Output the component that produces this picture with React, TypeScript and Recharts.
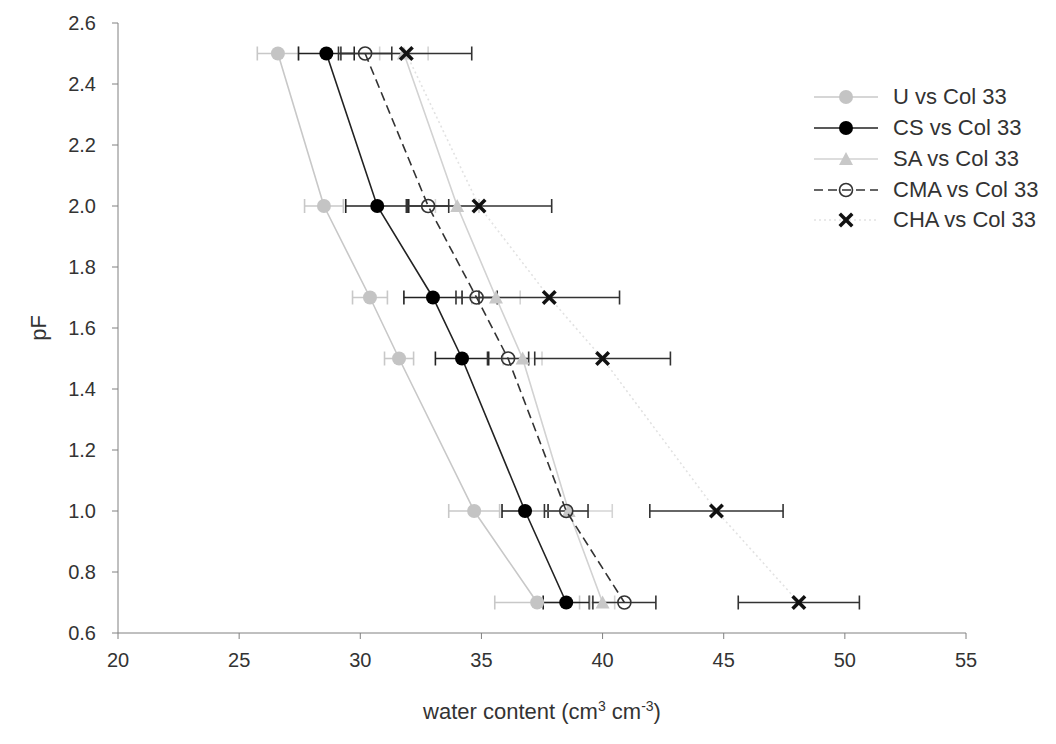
import React from "react";
import { ScatterChart, Scatter, XAxis, YAxis, ErrorBar, Legend } from "recharts";

// pF levels (y) and water content (x) per treatment, with half-width of the error bars
const pF = [2.5, 2.0, 1.7, 1.5, 1.0, 0.7];

const uWater = [26.6, 28.5, 30.4, 31.6, 34.7, 37.3];
const uErr = [0.85, 0.8, 0.72, 0.6, 1.05, 1.75];
const csWater = [28.6, 30.7, 33.0, 34.2, 36.8, 38.5];
const csErr = [1.15, 1.3, 1.2, 1.1, 0.95, 0.95];
const saWater = [31.8, 34.0, 35.6, 36.7, 38.6, 40.0];
const saErr = [1.0, 0.9, 1.0, 0.8, 1.8, 0.5];
const cmaWater = [30.2, 32.8, 34.8, 36.1, 38.5, 40.9];
const cmaErr = [1.1, 0.85, 0.85, 0.85, 0.9, 1.3];
const chaWater = [31.9, 34.9, 37.8, 40.0, 44.7, 48.1];
const chaErr = [2.7, 3.0, 2.9, 2.8, 2.75, 2.5];

const xTicks = [20, 25, 30, 35, 40, 45, 50, 55];
const yTicks = [0.6, 0.8, 1.0, 1.2, 1.4, 1.6, 1.8, 2.0, 2.2, 2.4, 2.6];

const toPoints = (water: number[], err: number[]) =>
  pF.map((y, i) => ({ x: water[i], y, err: err[i] }));

const FONT = "'Liberation Sans', Arial, sans-serif";
const TEXT = "#333";
const AXIS = "#808080";

type Marker = "dot" | "tri" | "open" | "cross";

function drawMarker(kind: Marker, cx: number, cy: number, color: string) {
  if (kind === "dot") return <circle cx={cx} cy={cy} r={7} fill={color} />;
  if (kind === "tri")
    return <polygon points={`${cx},${cy - 7} ${cx + 7},${cy + 6} ${cx - 7},${cy + 6}`} fill={color} />;
  if (kind === "open")
    return <circle cx={cx} cy={cy} r={6.5} fill="none" stroke={color} strokeWidth={1.6} />;
  return (
    <g stroke={color} strokeWidth={3.5} strokeLinecap="square">
      <line x1={cx - 5} y1={cy - 5} x2={cx + 5} y2={cy + 5} />
      <line x1={cx - 5} y1={cy + 5} x2={cx + 5} y2={cy - 5} />
    </g>
  );
}

const series = [
  { name: "U vs Col 33", data: toPoints(uWater, uErr), marker: "dot" as Marker, color: "#c4c4c4", line: "#c8c8c8", dash: undefined, bar: "#c8c8c8" },
  { name: "CS vs Col 33", data: toPoints(csWater, csErr), marker: "dot" as Marker, color: "#000", line: "#222", dash: undefined, bar: "#222" },
  { name: "SA vs Col 33", data: toPoints(saWater, saErr), marker: "tri" as Marker, color: "#c8c8c8", line: "#d2d2d2", dash: undefined, bar: "#d4d4d4" },
  { name: "CMA vs Col 33", data: toPoints(cmaWater, cmaErr), marker: "open" as Marker, color: "#333", line: "#333", dash: "9 5", bar: "#333" },
  { name: "CHA vs Col 33", data: toPoints(chaWater, chaErr), marker: "cross" as Marker, color: "#111", line: "#e2e2e2", dash: "2 3", bar: "#333" },
];

function LegendBox() {
  return (
    <div style={{ fontFamily: FONT, fontSize: 22, color: TEXT }}>
      {series.map((s) => (
        <div key={s.name} style={{ display: "flex", alignItems: "center", height: 30.75 }}>
          <svg width={64} height={20} style={{ marginRight: 15 }}>
            <line x1={0} y1={10} x2={64} y2={10} stroke={s.line} strokeWidth={1.6} strokeDasharray={s.dash} />
            {drawMarker(s.marker, 32, 10, s.color)}
          </svg>
          <span>{s.name}</span>
        </div>
      ))}
    </div>
  );
}

export default function App() {
  return (
    <div style={{ fontFamily: FONT }}>
      <ScatterChart width={1040} height={728} margin={{ top: 15, right: 82, bottom: 0, left: 0 }}>
        <XAxis
          type="number"
          dataKey="x"
          domain={[20, 55]}
          ticks={xTicks}
          height={103}
          tickSize={6}
          tickMargin={14}
          stroke={AXIS}
          tick={{ fill: TEXT, fontSize: 20 }}
          label={({ viewBox }: any) => (
            <text x={viewBox.x + viewBox.width / 2} y={viewBox.y + 86} textAnchor="middle" fill={TEXT} fontSize={22}>
              water content (cm
              <tspan dy={-8} fontSize={14}>3</tspan>
              <tspan dy={8}> cm</tspan>
              <tspan dy={-8} fontSize={14}>-3</tspan>
              <tspan dy={8}>)</tspan>
            </text>
          )}
        />
        <YAxis
          type="number"
          dataKey="y"
          domain={[0.6, 2.6]}
          ticks={yTicks}
          width={110}
          tickSize={6}
          tickMargin={16}
          stroke={AXIS}
          tick={{ fill: TEXT, fontSize: 20 }}
          tickFormatter={(v: number) => v.toFixed(1)}
          label={({ viewBox }: any) => {
            const cx = 30;
            const cy = viewBox.y + viewBox.height / 2;
            return (
              <text x={cx} y={cy} textAnchor="middle" dominantBaseline="central" fill={TEXT} fontSize={22} transform={`rotate(-90 ${cx} ${cy})`}>
                pF
              </text>
            );
          }}
        />
        <Legend
          layout="vertical"
          align="center"
          verticalAlign="middle"
          wrapperStyle={{ left: 806, top: 74, width: 240 }}
          content={() => <LegendBox />}
        />
        {series.map((s) => (
          <Scatter
            key={s.name}
            name={s.name}
            data={s.data}
            isAnimationActive={false}
            line={{ stroke: s.line, strokeWidth: 1.6, strokeDasharray: s.dash }}
            lineType="joint"
            shape={(p: any) => drawMarker(s.marker, p.cx, p.cy, s.color)}
          >
            <ErrorBar dataKey="err" direction="x" width={7} stroke={s.bar} strokeWidth={1.6} />
          </Scatter>
        ))}
      </ScatterChart>
    </div>
  );
}
